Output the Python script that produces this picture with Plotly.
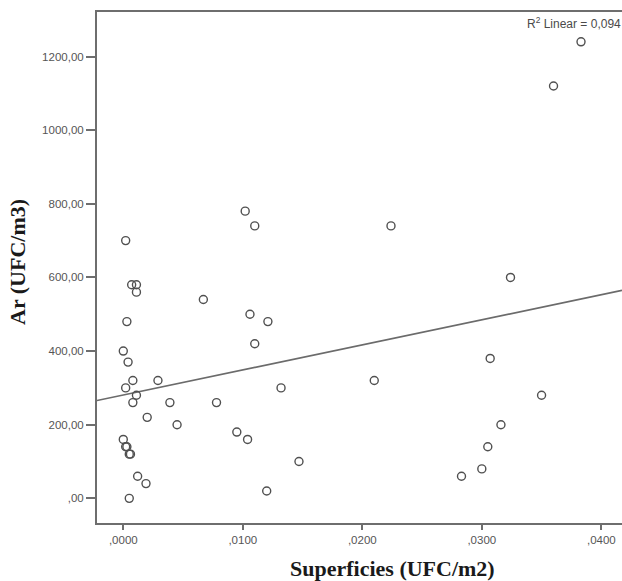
import numpy as np
import plotly.graph_objects as go

# Data
superficies = [0.0383, 0.0360, 0.0102, 0.0110, 0.0224, 0.0002, 0.0324, 0.0007, 0.0011, 0.0011,
               0.0067, 0.0106, 0.0121, 0.0003, 0.0110, 0.0000, 0.0004, 0.0307, 0.0008, 0.0029,
               0.0210, 0.0002, 0.0132, 0.0011, 0.0350, 0.0008, 0.0039, 0.0078, 0.0020, 0.0045,
               0.0316, 0.0095, 0.0104, 0.0000, 0.0002, 0.0003, 0.0305, 0.0005, 0.0006, 0.0147,
               0.0300, 0.0012, 0.0283, 0.0019, 0.0120, 0.0005]
ar = [1240, 1120, 780, 740, 740, 700, 600, 580, 580, 560,
      540, 500, 480, 480, 420, 400, 370, 380, 320, 320,
      320, 300, 300, 280, 280, 260, 260, 260, 220, 200,
      200, 180, 160, 160, 140, 140, 140, 120, 120, 100,
      80, 60, 60, 40, 20, 0]

x_tickvals = [0.0, 0.01, 0.02, 0.03, 0.04]
x_ticktext = [",0000", ",0100", ",0200", ",0300", ",0400"]
y_tickvals = [0, 200, 400, 600, 800, 1000, 1200]
y_ticktext = [",00", "200,00", "400,00", "600,00", "800,00", "1000,00", "1200,00"]

x_range = [-0.0022, 0.04173]
y_range = [-67, 1321]

x = np.array(superficies)
y = np.array(ar)
slope, intercept = np.polyfit(x, y, 1)

fit_x = np.array(x_range)
fit_y = slope * fit_x + intercept

fig = go.Figure()
fig.add_trace(go.Scatter(x=fit_x, y=fit_y, mode="lines",
                         line=dict(color="#6b6b6b", width=1.6), hoverinfo="skip"))
fig.add_trace(go.Scatter(x=superficies, y=ar, mode="markers",
                         marker=dict(symbol="circle-open", size=8, color="#505050",
                                     line=dict(width=1.4, color="#505050"))))

tick_font = dict(family="Liberation Sans, Arial, sans-serif", size=11.5, color="#555555")
title_font = dict(family="Liberation Serif, Times New Roman, serif", size=22, color="#1a1a1a")

fig.update_layout(
    width=622, height=581,
    margin=dict(l=97, r=0, t=12, b=58),
    paper_bgcolor="white", plot_bgcolor="white",
    showlegend=False,
    xaxis=dict(range=x_range, tickvals=x_tickvals, ticktext=x_ticktext,
               showgrid=False, zeroline=False, showline=True, linecolor="#6e6e6e",
               linewidth=2, mirror=True, ticks="outside", ticklen=5, tickwidth=1.5,
               tickcolor="#6e6e6e", tickfont=tick_font),
    yaxis=dict(range=y_range, tickvals=y_tickvals, ticktext=y_ticktext,
               showgrid=False, zeroline=False, showline=True, linecolor="#6e6e6e",
               linewidth=2, ticks="outside", ticklen=9, tickwidth=1.5,
               tickcolor="#6e6e6e", tickfont=tick_font, ticklabelstandoff=0),
    annotations=[
        dict(text="<b>Superficies (UFC/m2)</b>", xref="paper", yref="paper",
             x=(392 - 97) / 525, y=-45 / 511, xanchor="center", yanchor="middle",
             showarrow=False, font=title_font),
        dict(text="<b>Ar (UFC/m3)</b>", xref="paper", yref="paper",
             x=-80 / 525, y=(523 - 262) / 511, xanchor="center", yanchor="middle",
             textangle=-90, showarrow=False, font=title_font),
        dict(text="R<sup>2</sup> Linear = 0,094", xref="paper", yref="paper",
             x=(525 - 97) / 525, y=(523 - 23) / 511, xanchor="left", yanchor="middle",
             showarrow=False,
             font=dict(family="Liberation Sans, Arial, sans-serif", size=12, color="#4a4a4a")),
    ],
)

fig.write_html("out.html", config={"displayModeBar": False},
               post_script="document.body.style.margin='0';document.body.style.overflow='hidden';")
